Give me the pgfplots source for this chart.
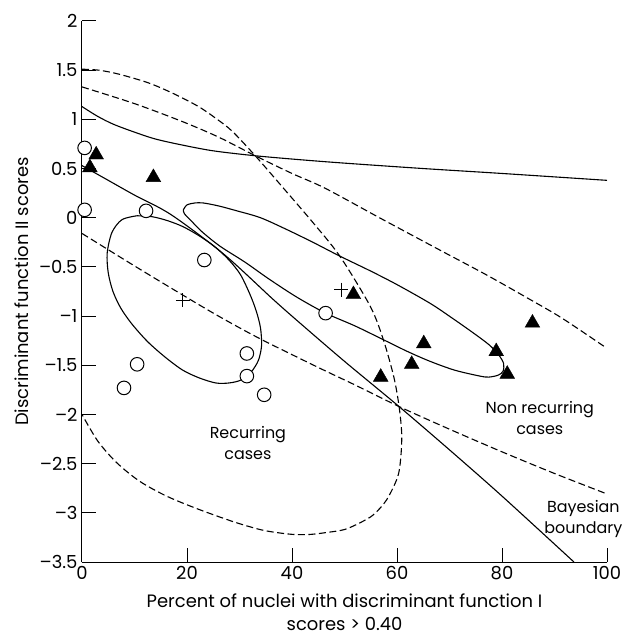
\documentclass[border=0pt]{standalone}
\usepackage{fontspec}
\setmainfont{Poppins}
\usepackage{pgfplots}
\pgfplotsset{compat=1.18}

\begin{document}
\begin{tikzpicture}
\path[use as bounding box] (-82bp,-77bp) rectangle (542bp,562bp);
\begin{axis}[
    at={(0,0)}, anchor=south west,
    scale only axis, width=525bp, height=541bp,
    xmin=0, xmax=100, ymin=-3.5, ymax=2,
    axis lines=left, axis line style={-, line width=1bp},
    tick align=inside, major tick length=14bp,
    tick style={black, line width=1bp},
    xtick={0,20,40,60,80,100},
    ytick={-3.5,-3,-2.5,-2,-1.5,-1,-0.5,0,0.5,1,1.5,2},
    xticklabels={0,20,40,60,80,100},
    yticklabels={–3.5,–3,–2.5,–2,–1.5,–1,–0.5,0,0.5,1,1.5,2},
    /pgf/number format/assume math mode=true,
    ticklabel style={font=\fontsize{18}{20}\selectfont},
    yticklabel style={xshift=-1bp},
    xticklabel style={yshift=-1bp},
    xlabel={Percent of nuclei with discriminant function I\\scores > 0.40},
    ylabel={Discriminant function II scores},
    label style={font=\fontsize{18}{23}\selectfont, align=center},
    xlabel style={at={(axis description cs:0.5,-0.1275)}, anchor=south, inner sep=0pt},
    ylabel style={at={(axis description cs:-0.1143,0.5)}, anchor=center},
    clip=false,
]
% upper solid curve
\addplot[smooth, line width=1.1bp] coordinates {
(0,1.13) (3,1.03) (6,0.95) (10,0.87) (14,0.80) (19,0.74) (25,0.68) (33,0.63)
(41.5,0.59) (50,0.555) (65,0.50) (80,0.45) (100,0.38)};
% upper dashed line
\addplot[smooth, line width=1.1bp, dash pattern=on 7bp off 3.5bp] coordinates {
(0,1.33) (10,1.16) (19,0.98) (26,0.82) (33,0.63) (40,0.45) (46.3,0.30) (57,-0.01)
(68.2,-0.33) (77,-0.58) (85.3,-0.83) (91.4,-1.02) (99.5,-1.31)};
% large dashed ellipse
\addplot[smooth, line width=1.1bp, dash pattern=on 7bp off 3.5bp] coordinates {
(0,1.51) (3.2,1.50) (7,1.46) (12.7,1.37) (17.5,1.26) (22.2,1.13) (25.5,1.01)
(28.6,0.88) (33,0.63) (38.7,0.28) (44,-0.05) (49.1,-0.39) (54.9,-0.90)
(57.4,-1.24) (59.4,-1.62) (60.4,-1.92) (60.9,-2.2) (60.7,-2.45) (60.1,-2.64)
(58,-2.87) (55.5,-3.02) (53,-3.10) (50,-3.17) (46.6,-3.20) (43.4,-3.22)
(40.3,-3.22) (37,-3.20) (33.9,-3.17) (28.8,-3.09) (22,-2.96) (16.1,-2.83)
(11,-2.68) (6.6,-2.49) (3,-2.27) (0,-2.0)};
% long solid line
\addplot[smooth, line width=1.1bp] coordinates {
(0,0.53) (5,0.38) (10,0.23) (17,0.03) (27,-0.37) (36.4,-0.83) (41.5,-1.07)
(50,-1.46) (60.4,-1.92) (70,-2.36) (80,-2.83) (93.7,-3.5)};
% lower dashed line
\addplot[smooth, line width=1.1bp, dash pattern=on 7bp off 3.5bp] coordinates {
(0,-0.16) (10,-0.49) (19,-0.78) (26,-1.0) (33.9,-1.23) (45.3,-1.53) (52,-1.70)
(60.4,-1.92) (70,-2.15) (80,-2.38) (90,-2.60) (99.6,-2.80)};
% recurring ellipse
\addplot[smooth, line width=1.1bp] coordinates {
(10.5,0.02) (7.6,-0.02) (5.7,-0.15) (4.8,-0.36) (5.0,-0.56) (5.9,-0.75)
(7.4,-0.92) (9.5,-1.08) (12.5,-1.26) (15.9,-1.42) (19.2,-1.55) (22.4,-1.63)
(25.5,-1.68) (28.0,-1.68) (30.3,-1.65) (32.2,-1.57) (33.6,-1.45) (34.2,-1.30)
(34.0,-1.12) (33.2,-0.95) (32.0,-0.78) (30.2,-0.58) (28.0,-0.43) (25.2,-0.29)
(22.2,-0.18) (19.2,-0.09) (16.3,-0.03) (13.4,0.01) (10.5,0.02)};
% non recurring ellipse
\addplot[smooth, line width=1.1bp] coordinates {
(19.3,0.08) (20.0,0.13) (21.5,0.15) (23.1,0.15) (26,0.12) (29.5,0.07) (34,0.0)
(39,-0.12) (44,-0.25) (49.1,-0.39) (54.9,-0.54) (60,-0.68) (66.3,-0.87)
(70.5,-1.02) (74.5,-1.17) (77.5,-1.29) (79.3,-1.39) (80.3,-1.48) (80.2,-1.56)
(79.3,-1.60) (77.5,-1.62) (75.8,-1.61) (71,-1.55) (66.3,-1.46) (62,-1.36)
(57.4,-1.24) (52,-1.10) (46.4,-0.97) (41,-0.81) (35.8,-0.63) (31,-0.45)
(26.3,-0.29) (22.8,-0.14) (20.6,-0.02) (19.5,0.04) (19.3,0.08)};
% recurring cases
\addplot[only marks, mark=*, mark size=6.8bp, mark options={draw=black, fill=white, line width=1bp}] coordinates {
(0.5,0.71) (0.5,0.08) (12.2,0.07) (23.3,-0.43) (46.4,-0.97) (31.4,-1.38)
(31.4,-1.61) (34.7,-1.80) (10.5,-1.49) (8.0,-1.73)};
% non recurring cases
\addplot[only marks, mark=triangle*, mark size=8.5bp, mark options={draw=black, fill=black}] coordinates {
(2.7,0.64) (1.5,0.51) (13.6,0.41) (51.7,-0.78) (85.8,-1.07) (65.1,-1.28)
(78.9,-1.36) (62.8,-1.49) (56.9,-1.62) (81.0,-1.59)};
% centroids
\addplot[only marks, mark=+, mark size=7bp, mark options={draw=black, line width=1bp}] coordinates {
(19.2,-0.84) (49.4,-0.73)};
\node[align=center, font=\fontsize{16}{21}\selectfont] at (axis cs:31.6,-2.29) {Recurring\\cases};
\node[align=center, font=\fontsize{16}{21}\selectfont] at (axis cs:87.2,-2.04) {Non recurring\\cases};
\node[align=center, font=\fontsize{16}{21}\selectfont] at (axis cs:95.5,-3.06) {Bayesian\\boundary};
\end{axis}
\end{tikzpicture}
\end{document}
